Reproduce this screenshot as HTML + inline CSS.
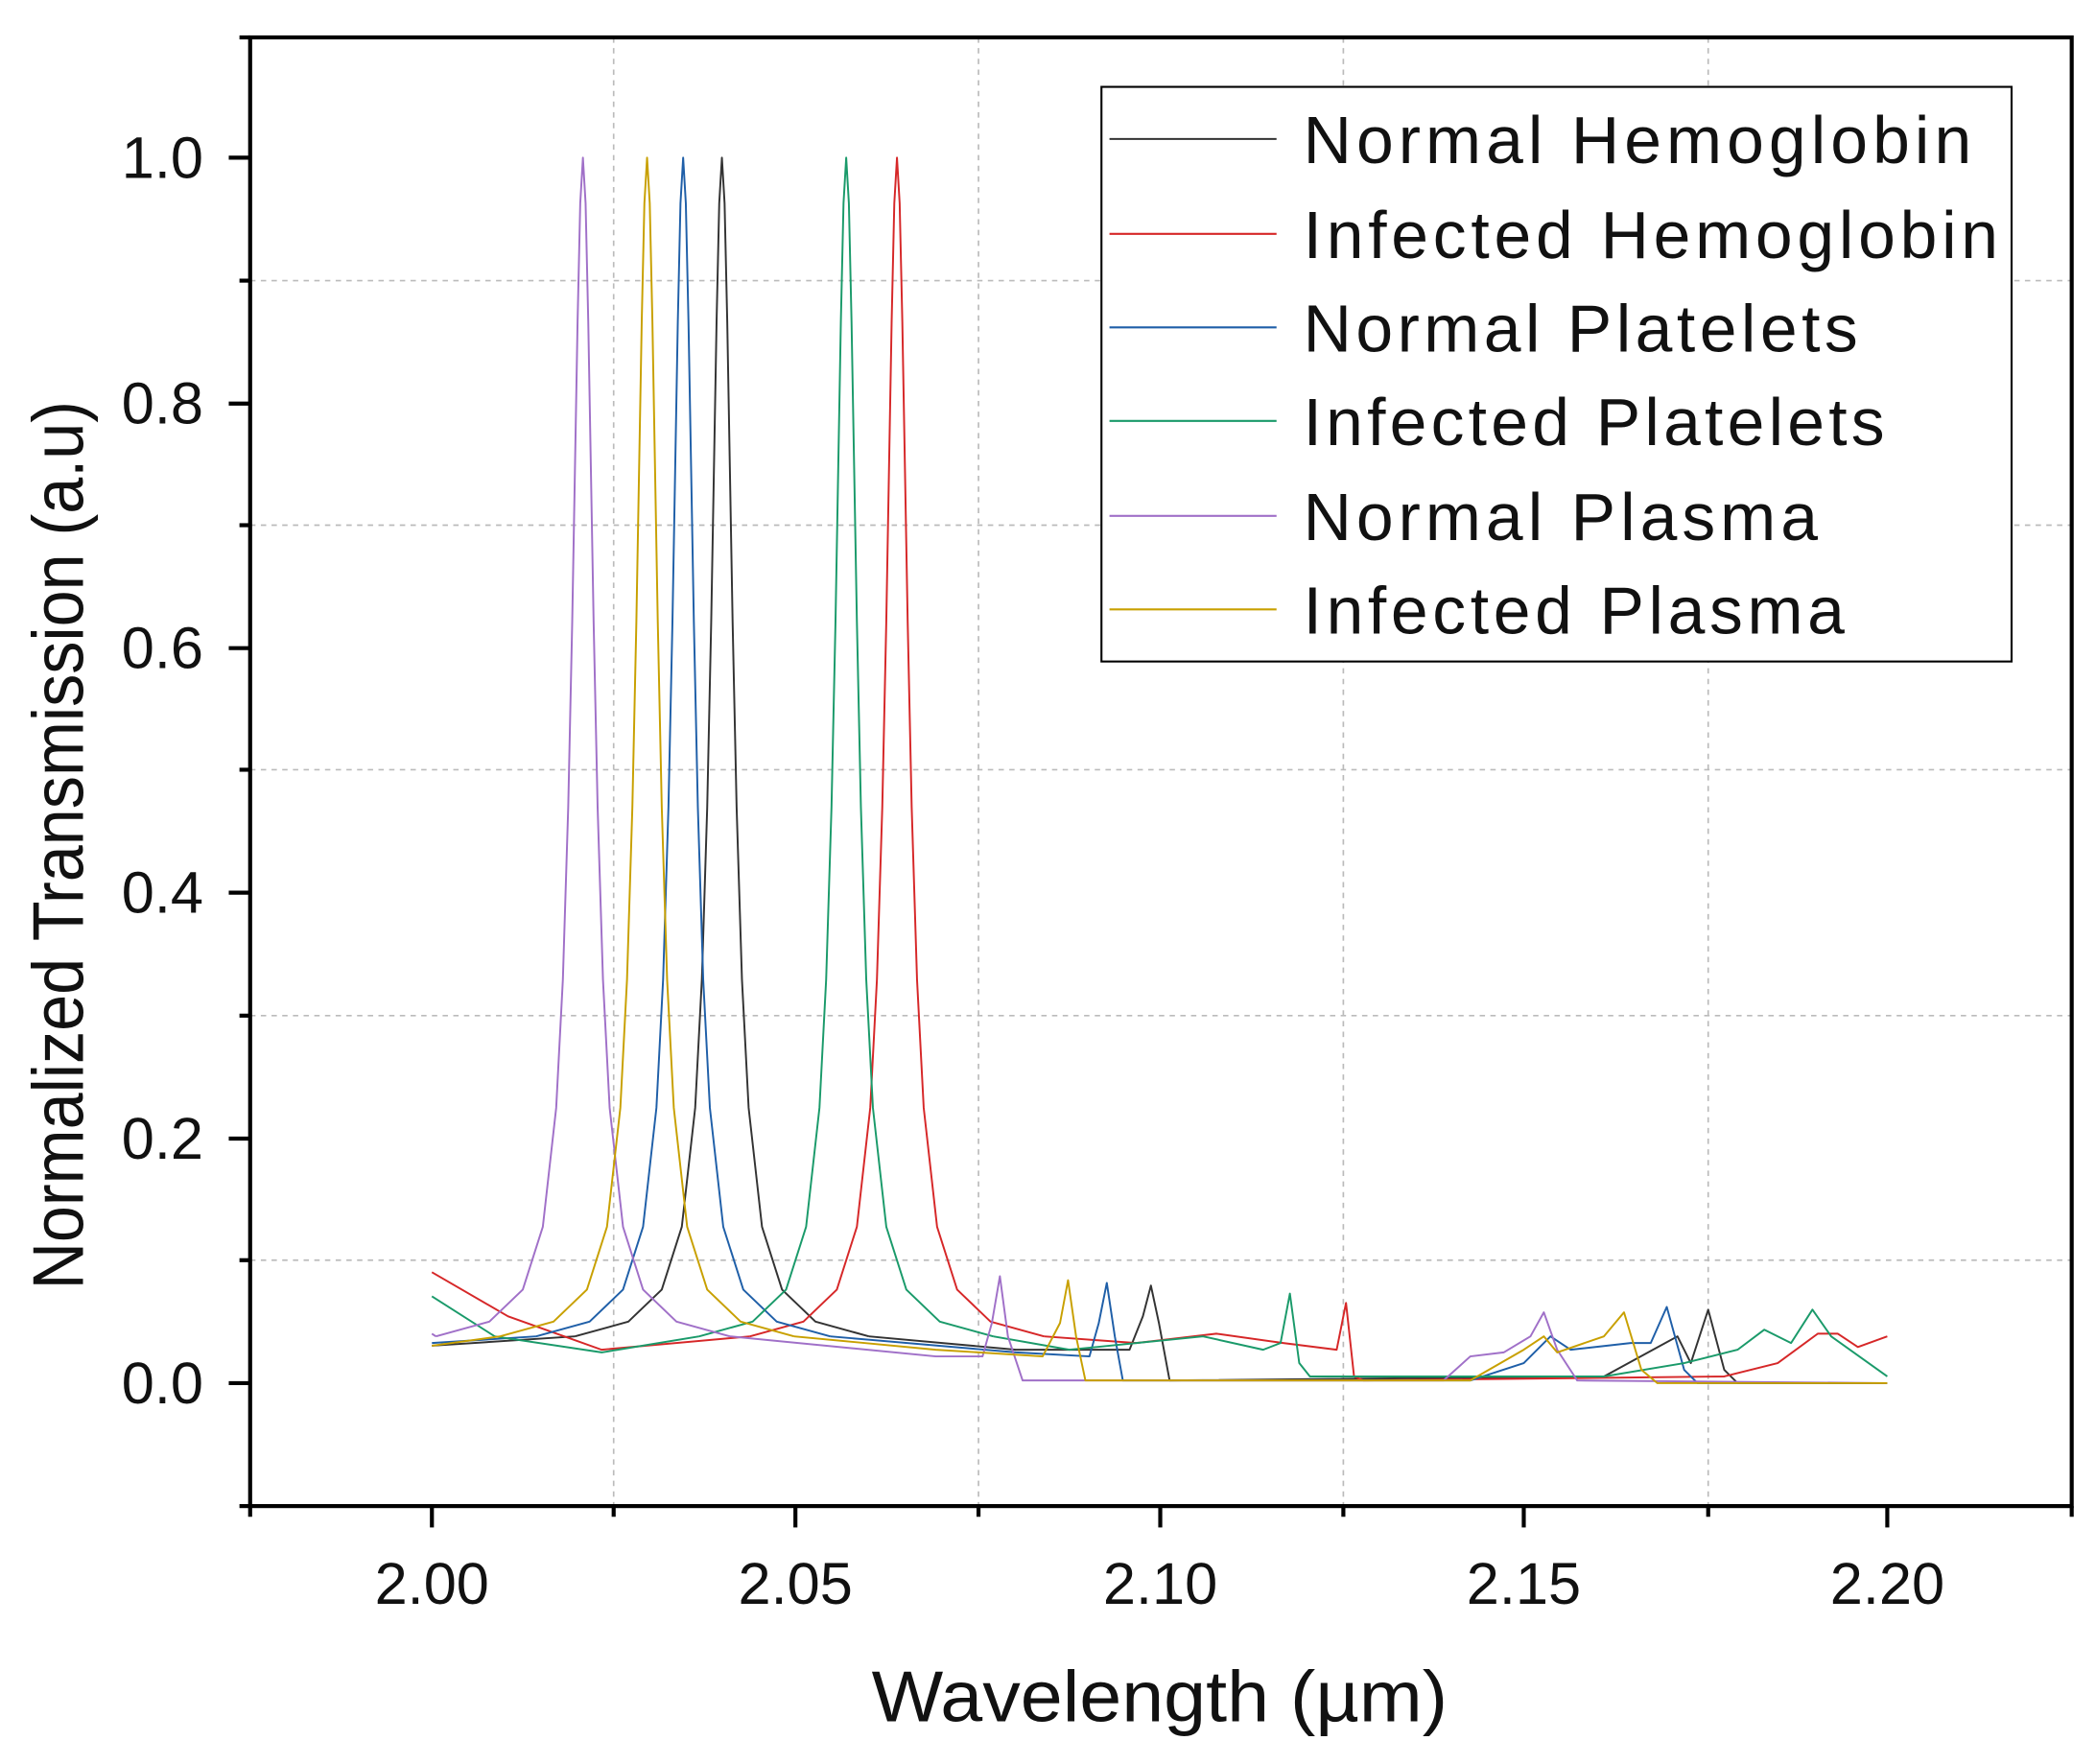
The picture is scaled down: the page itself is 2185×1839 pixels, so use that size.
<!DOCTYPE html>
<html><head><meta charset="utf-8"><style>html,body{margin:0;padding:0;background:#fff}svg{display:block}</style></head>
<body>
<svg width="2185" height="1839" viewBox="0 0 1568 1320" xmlns="http://www.w3.org/2000/svg" xmlns:xlink="http://www.w3.org/1999/xlink" font-family="Liberation Sans, Arial, sans-serif">
<defs>
<path id="pk" d="M-110 1000 L-70 989 L-45 965 L-30 918 L-20 829 L-15 733 L-11 604 L-8 465 L-6 353 L-4 241 L-2 152 L0 118 L2 152 L4 241 L6 353 L8 465 L11 604 L15 733 L20 829 L30 918 L45 965 L70 989 L110 1000"/>
</defs>
<rect width="1568" height="1320" fill="#fff"/>
<g stroke="#bbb" stroke-width="1.2" stroke-dasharray="4,4">
<line x1="459" y1="28" x2="459" y2="1127"/><line x1="732" y1="28" x2="732" y2="1127"/><line x1="1005" y1="28" x2="1005" y2="1127"/><line x1="1278" y1="28" x2="1278" y2="1127"/>
<line x1="187" y1="943" x2="1550" y2="943"/><line x1="187" y1="760" x2="1550" y2="760"/><line x1="187" y1="576" x2="1550" y2="576"/><line x1="187" y1="393" x2="1550" y2="393"/><line x1="187" y1="210" x2="1550" y2="210"/>
</g>
<g fill="none" stroke-width="1.4" stroke-linejoin="round">
<g stroke="#333"><use xlink:href="#pk" href="#pk" x="540"/><polyline points="323,1007 430,1000"/><polyline points="650,1000 760,1010 845,1010 855,985 861,962 867,990 875,1033 1200,1030 1255,1000 1265,1020 1278,980 1290,1025 1300,1035 1412,1035"/></g>
<g stroke="#d62728"><use xlink:href="#pk" href="#pk" x="671"/><polyline points="323,952 380,985 450,1010 561,1000"/><polyline points="781,1000 850,1005 910,998 960,1005 1000,1010 1007,975 1013,1030 1020,1033 1290,1030 1330,1020 1360,998 1375,998 1390,1008 1412,1000"/></g>
<g stroke="#1f5fa8"><use xlink:href="#pk" href="#pk" x="511"/><polyline points="323,1005 401,1000"/><polyline points="621,1000 760,1012 815,1015 822,990 828,960 834,1000 840,1033 1100,1033 1140,1020 1160,1000 1175,1010 1220,1005 1235,1005 1247,978 1260,1025 1270,1035 1412,1035"/></g>
<g stroke="#1a9a6a"><use xlink:href="#pk" href="#pk" x="633"/><polyline points="323,970 370,1000 450,1012 523,1000"/><polyline points="743,1000 800,1010 850,1005 900,1000 945,1010 958,1005 965,968 972,1020 980,1030 1200,1030 1260,1020 1300,1010 1320,995 1340,1005 1356,980 1370,1000 1412,1030"/></g>
<g stroke="#a070c8"><use xlink:href="#pk" href="#pk" x="436"/><polyline points="323,998 326,1000"/><polyline points="546,1000 700,1015 735,1015 742,990 748,955 754,1000 765,1033 1080,1033 1100,1015 1125,1012 1145,1000 1155,982 1165,1010 1180,1033 1412,1035"/></g>
<g stroke="#c8a000"><use xlink:href="#pk" href="#pk" x="484"/><polyline points="323,1007 374,1000"/><polyline points="594,1000 700,1010 780,1015 793,990 799,958 805,1000 812,1033 1100,1033 1140,1010 1155,1000 1165,1012 1200,1000 1215,982 1228,1025 1240,1035 1412,1035"/></g>
</g>
<rect x="187" y="28" width="1363" height="1099" fill="none" stroke="#000" stroke-width="3"/>
<g stroke="#000" stroke-width="3">
<line x1="323" y1="1127" x2="323" y2="1143"/><line x1="595" y1="1127" x2="595" y2="1143"/><line x1="868" y1="1127" x2="868" y2="1143"/><line x1="1140" y1="1127" x2="1140" y2="1143"/><line x1="1412" y1="1127" x2="1412" y2="1143"/>
<line x1="187" y1="1127" x2="187" y2="1135"/><line x1="459" y1="1127" x2="459" y2="1135"/><line x1="732" y1="1127" x2="732" y2="1135"/><line x1="1005" y1="1127" x2="1005" y2="1135"/><line x1="1278" y1="1127" x2="1278" y2="1135"/><line x1="1550" y1="1127" x2="1550" y2="1135"/>
<line x1="171" y1="118" x2="187" y2="118"/><line x1="171" y1="302" x2="187" y2="302"/><line x1="171" y1="485" x2="187" y2="485"/><line x1="171" y1="668" x2="187" y2="668"/><line x1="171" y1="852" x2="187" y2="852"/><line x1="171" y1="1035" x2="187" y2="1035"/>
<line x1="179" y1="28" x2="187" y2="28"/><line x1="179" y1="210" x2="187" y2="210"/><line x1="179" y1="393" x2="187" y2="393"/><line x1="179" y1="576" x2="187" y2="576"/><line x1="179" y1="760" x2="187" y2="760"/><line x1="179" y1="943" x2="187" y2="943"/><line x1="179" y1="1127" x2="187" y2="1127"/>
</g>
<g font-size="44" fill="#111">
<g text-anchor="end"><text x="152" y="133">1.0</text><text x="152" y="317">0.8</text><text x="152" y="500">0.6</text><text x="152" y="683">0.4</text><text x="152" y="867">0.2</text><text x="152" y="1050">0.0</text></g>
<g text-anchor="middle"><text x="323" y="1200">2.00</text><text x="595" y="1200">2.05</text><text x="868" y="1200">2.10</text><text x="1140" y="1200">2.15</text><text x="1412" y="1200">2.20</text></g>
</g>
<text x="652" y="1288" font-size="54" textLength="431" lengthAdjust="spacingAndGlyphs" fill="#111">Wavelength (µm)</text>
<text transform="translate(62,965) rotate(-90)" font-size="54" textLength="665" lengthAdjust="spacingAndGlyphs" fill="#111">Normalized Transmission (a.u)</text>
<rect x="824" y="65" width="681" height="430" fill="#fff" stroke="#000" stroke-width="1.5"/>
<g font-size="50" fill="#111" stroke-width="1.5" lengthAdjust="spacingAndGlyphs">
<line x1="830" y1="104" x2="955" y2="104" stroke="#333"/><text x="975" y="122" textLength="500">Normal Hemoglobin</text>
<line x1="830" y1="175" x2="955" y2="175" stroke="#d62728"/><text x="975" y="193" textLength="520">Infected Hemoglobin</text>
<line x1="830" y1="245" x2="955" y2="245" stroke="#1f5fa8"/><text x="975" y="263" textLength="415">Normal Platelets</text>
<line x1="830" y1="315" x2="955" y2="315" stroke="#1a9a6a"/><text x="975" y="333" textLength="435">Infected Platelets</text>
<line x1="830" y1="386" x2="955" y2="386" stroke="#a070c8"/><text x="975" y="404" textLength="385">Normal Plasma</text>
<line x1="830" y1="456" x2="955" y2="456" stroke="#c8a000"/><text x="975" y="474" textLength="405">Infected Plasma</text>
</g>
</svg>
</body></html>
